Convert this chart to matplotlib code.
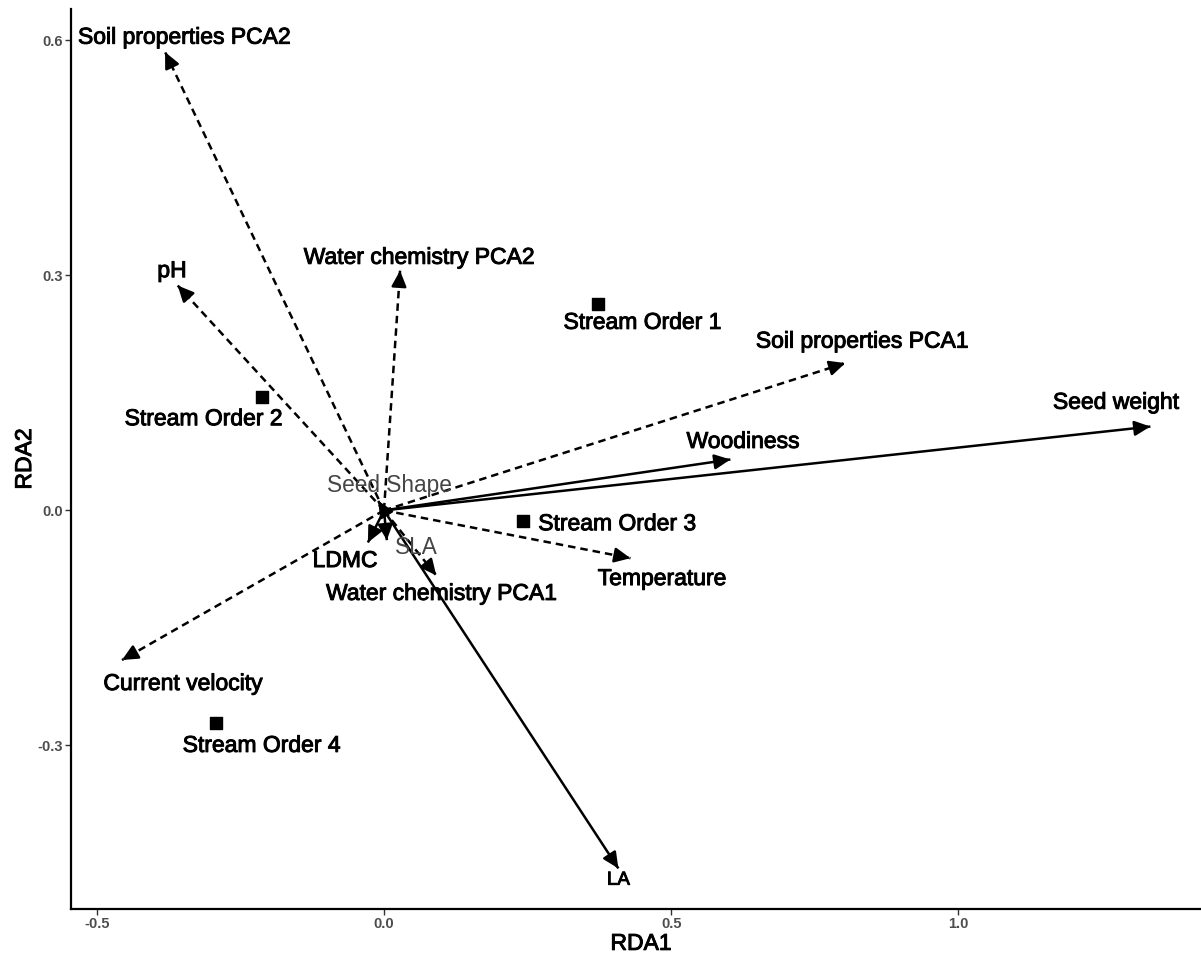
import matplotlib.pyplot as plt
import matplotlib.patheffects as pe
import numpy as np

plt.rcParams['font.family'] = ['Liberation Sans', 'DejaVu Sans']

# environmental vectors (dashed)
env_names = ['Soil properties PCA2', 'pH', 'Water chemistry PCA2', 'Soil properties PCA1',
             'Temperature', 'Water chemistry PCA1', 'Current velocity']
env_x = [-0.381, -0.359, 0.028, 0.803, 0.429, 0.091, -0.456]
env_y = [0.585, 0.287, 0.306, 0.188, -0.061, -0.083, -0.191]
env_lx = [-0.348, -0.369, 0.061, 0.832, 0.484, 0.100, -0.350]
env_ly = [0.604, 0.306, 0.323, 0.216, -0.087, -0.106, -0.221]

# trait vectors (solid)
trait_names = ['Seed weight', 'Woodiness', 'LA', 'LDMC', 'SLA', 'Seed Shape']
trait_x = [1.334, 0.603, 0.408, -0.028, 0.005, -0.010]
trait_y = [0.107, 0.065, -0.457, -0.041, -0.038, 0.012]
trait_lx = [1.274, 0.625, 0.408, -0.068, 0.056, 0.009]
trait_ly = [0.138, 0.088, -0.472, -0.064, -0.047, 0.032]

# stream order centroids
so_names = ['Stream Order 1', 'Stream Order 2', 'Stream Order 3', 'Stream Order 4']
so_x = [0.372, -0.213, 0.242, -0.293]
so_y = [0.263, 0.145, -0.014, -0.271]
so_lx = [0.450, -0.314, 0.406, -0.213]
so_ly = [0.240, 0.117, -0.017, -0.300]

fig = plt.figure(figsize=(12.01, 9.56), dpi=100)
ax = fig.add_axes([0.059, 0.049, 0.94, 0.9416])
ax.set_xlim(-0.545, 1.42)
ax.set_ylim(-0.509, 0.64)

heavy = [pe.withStroke(linewidth=0.7, foreground='black')]
head = dict(arrowstyle='-|>,head_length=0.95,head_width=0.45', color='black', lw=1.8,
            shrinkA=0, shrinkB=0)


def draw_vector(x, y, dashed):
    if dashed:
        ax.plot([0, x], [0, y], color='black', lw=1.8, ls=(0, (3, 2)),
                dash_capstyle='butt', solid_capstyle='butt')
    else:
        ax.plot([0, x], [0, y], color='black', lw=1.8, solid_capstyle='butt')
    # solid head placed at the tip, direction taken in pixel space
    p0 = ax.transData.transform((0, 0))
    p1 = ax.transData.transform((x, y))
    d = (p1 - p0) / np.hypot(*(p1 - p0))
    ax.annotate('', xy=(x, y), xytext=(-d[0] * 3, -d[1] * 3), textcoords='offset points',
                arrowprops=head)


for name, x, y, lx, ly in zip(env_names, env_x, env_y, env_lx, env_ly):
    draw_vector(x, y, True)
    ax.text(lx, ly, name, ha='center', va='center', fontsize=16.5, color='black',
            path_effects=heavy)

for name, x, y, lx, ly in zip(trait_names, trait_x, trait_y, trait_lx, trait_ly):
    draw_vector(x, y, False)
    if name in ('SLA', 'Seed Shape'):
        ax.text(lx, ly, name, ha='center', va='center', fontsize=16.3, color='#454545')
    elif name == 'LA':
        ax.text(lx, ly, name, ha='center', va='center', fontsize=13.5, color='black',
                path_effects=heavy)
    else:
        ax.text(lx, ly, name, ha='center', va='center', fontsize=16.5, color='black',
                path_effects=heavy)

ax.scatter(so_x, so_y, marker='s', s=80, color='black', zorder=3)
for name, lx, ly in zip(so_names, so_lx, so_ly):
    ax.text(lx, ly, name, ha='center', va='center', fontsize=16.5, color='black',
            path_effects=heavy)

ax.set_xticks([-0.5, 0.0, 0.5, 1.0])
ax.set_xticklabels(['-0.5', '0.0', '0.5', '1.0'])
ax.set_yticks([-0.3, 0.0, 0.3, 0.6])
ax.set_yticklabels(['-0.3', '0.0', '0.3', '0.6'])
ax.tick_params(labelsize=10.5, labelcolor='#4d4d4d', color='#333333', length=4, width=1,
               pad=2)
for lab in ax.get_xticklabels() + ax.get_yticklabels():
    lab.set_fontweight('bold')
ax.spines['top'].set_visible(False)
ax.spines['right'].set_visible(False)
ax.spines['left'].set_linewidth(1.6)
ax.spines['bottom'].set_linewidth(1.6)
ax.set_xlabel('RDA1', fontsize=16.5, path_effects=heavy, va='center')
ax.set_ylabel('RDA2', fontsize=16.5, path_effects=heavy, va='center')
ax.xaxis.set_label_coords(0.505, -0.038)
ax.yaxis.set_label_coords(-0.041, 0.5)

fig.savefig('out.png', dpi=100)
plt.close(fig)
